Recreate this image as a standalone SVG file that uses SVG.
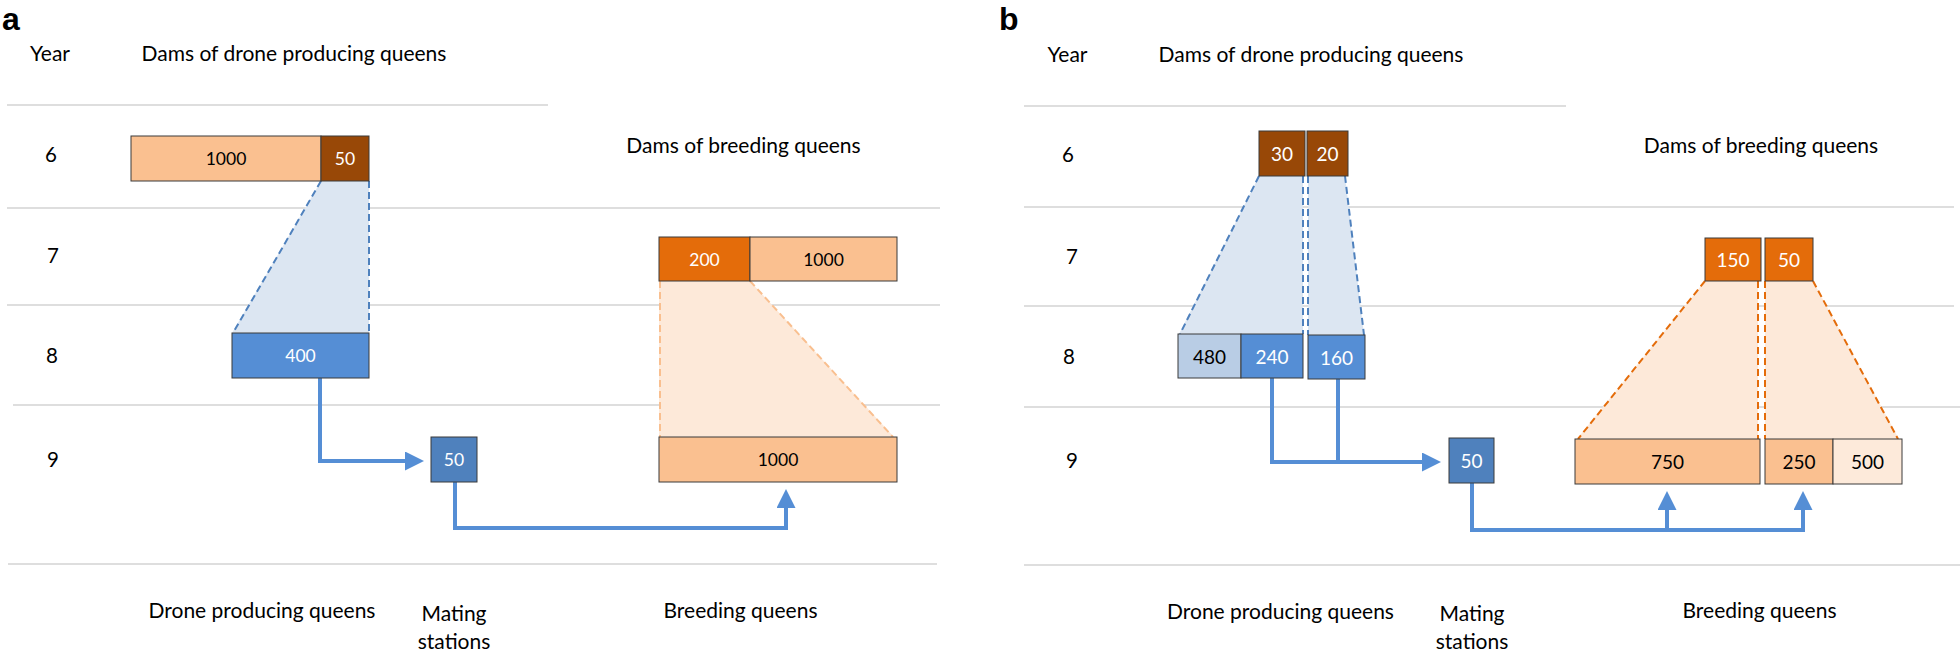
<svg xmlns="http://www.w3.org/2000/svg" width="1960" height="650" viewBox="0 0 1960 650">
<defs>
<style>
.grid{stroke:#d3d3d3;stroke-width:1.5;fill:none}
.lbl{font-family:Lato,"Liberation Sans",sans-serif;font-size:21px;fill:#000}
.yr{font-family:Lato,"Liberation Sans",sans-serif;font-size:20.5px;fill:#000;text-anchor:middle}
.panel{font-family:"Liberation Sans",Arial,sans-serif;font-size:32px;font-weight:bold;fill:#000}
.bx{stroke:#3a3a3a;stroke-width:1}
.ta{font-family:Lato,"Liberation Sans",sans-serif;font-size:17.5px;text-anchor:middle;dominant-baseline:central}
.tb{font-family:Lato,"Liberation Sans",sans-serif;font-size:19px;text-anchor:middle;dominant-baseline:central}
.w{fill:#fff}
.k{fill:#000}
.lo{fill:#fac090}
.br{fill:#984807}
.do{fill:#e46c0a}
.pe{fill:#fdeada}
.bl{fill:#558ed5}
.ms{fill:#4f81bd}
.lb{fill:#b9cde5}
.trb{fill:#dce6f2;stroke:none}
.tro{fill:#fde9d9;stroke:none}
.dsb{stroke:#4f81bd;stroke-width:2;stroke-dasharray:7 4;fill:none}
.dso{stroke:#f9bf8f;stroke-width:2;stroke-dasharray:7 4;fill:none}
.dsd{stroke:#e46c0a;stroke-width:2;stroke-dasharray:7 4;fill:none}
.flow{stroke:#558ed5;stroke-width:4;fill:none}
</style>
<marker id="arr" viewBox="0 0 10 10" refX="0" refY="5" markerWidth="19" markerHeight="19" markerUnits="userSpaceOnUse" orient="auto">
<path d="M0,0 L10,5 L0,10 Z" fill="#558ed5"/>
</marker>
</defs>
<rect width="1960" height="650" fill="#fff"/>

<g id="grid">
<line class="grid" x1="7" y1="105" x2="548" y2="105"/>
<line class="grid" x1="7" y1="208" x2="940" y2="208"/>
<line class="grid" x1="7" y1="305" x2="940" y2="305"/>
<line class="grid" x1="13" y1="405" x2="940" y2="405"/>
<line class="grid" x1="8" y1="564" x2="937" y2="564"/>
<line class="grid" x1="1024" y1="106" x2="1566" y2="106"/>
<line class="grid" x1="1024" y1="207" x2="1954" y2="207"/>
<line class="grid" x1="1024" y1="306" x2="1954" y2="306"/>
<line class="grid" x1="1024" y1="407" x2="1960" y2="407"/>
<line class="grid" x1="1024" y1="565" x2="1960" y2="565"/>
</g>

<g id="connectors">
<g id="projections">
<polygon class="trb" points="321,181 369,181 369,333 232,333"/>
<line class="dsb" x1="321" y1="181" x2="233" y2="333"/>
<line class="dsb" x1="369" y1="181" x2="369" y2="333"/>
<polygon class="tro" points="659,281 750,281 894,437 659,437"/>
<line class="dso" x1="660" y1="281" x2="660" y2="437"/>
<line class="dso" x1="750" y1="281" x2="893" y2="437"/>
<polygon class="trb" points="1259,176 1303,176 1303,334 1179,334"/>
<line class="dsb" x1="1259" y1="176" x2="1180" y2="334"/>
<line class="dsb" x1="1303" y1="176" x2="1303" y2="334"/>
<polygon class="trb" points="1308,176 1345,176 1364,335 1308,335"/>
<line class="dsb" x1="1308" y1="176" x2="1308" y2="335"/>
<line class="dsb" x1="1345" y1="176" x2="1364" y2="335"/>
<polygon class="tro" points="1705,281 1758,281 1758,439 1577,439"/>
<line class="dsd" x1="1705" y1="281" x2="1578" y2="439"/>
<line class="dsd" x1="1758" y1="281" x2="1758" y2="439"/>
<polygon class="tro" points="1765,281 1813,281 1899,439 1765,439"/>
<line class="dsd" x1="1765" y1="281" x2="1765" y2="439"/>
<line class="dsd" x1="1813" y1="281" x2="1898" y2="439"/>
</g>
<path class="flow" d="M320,378 V461 H405" marker-end="url(#arr)"/>
<path class="flow" d="M455,482 V528 H786 V508" marker-end="url(#arr)"/>
<path class="flow" d="M1272,378 V462 H1422" marker-end="url(#arr)"/>
<path class="flow" d="M1338,379 V462"/>
<path class="flow" d="M1472,483 V530 H1803 V510" marker-end="url(#arr)"/>
<path class="flow" d="M1667,530 V510" marker-end="url(#arr)"/>
</g>

<g id="a-dams-drone">
<rect class="bx lo" x="131" y="136" width="190" height="45"/>
<rect class="bx br" x="321" y="136" width="48" height="45"/>
<text class="ta k" x="226" y="158.5">1000</text>
<text class="ta w" x="345" y="158.5">50</text>
</g>
<g id="a-drone-queens">
<rect class="bx bl" x="232" y="333" width="137" height="45"/>
<text class="ta w" x="300.5" y="355.5">400</text>
</g>
<g id="a-mating">
<rect class="bx ms" x="431" y="437" width="46" height="45"/>
<text class="ta w" x="454" y="459.5">50</text>
</g>
<g id="a-dams-breeding">
<rect class="bx do" x="659" y="237" width="91" height="44"/>
<rect class="bx lo" x="750" y="237" width="147" height="44"/>
<text class="ta w" x="704.5" y="259">200</text>
<text class="ta k" x="823.5" y="259">1000</text>
</g>
<g id="a-breeding">
<rect class="bx lo" x="659" y="437" width="238" height="45"/>
<text class="ta k" x="778" y="459.5">1000</text>
</g>

<g id="b-dams-drone">
<rect class="bx br" x="1259" y="131" width="46" height="45"/>
<rect class="bx br" x="1307" y="131" width="41" height="45"/>
<text class="tb w" x="1282" y="153.5">30</text>
<text class="tb w" x="1327.5" y="153.5">20</text>
</g>
<g id="b-drone-queens">
<rect class="bx lb" x="1178" y="334" width="63" height="44"/>
<rect class="bx bl" x="1241" y="334" width="62" height="44"/>
<rect class="bx bl" x="1308" y="335" width="57" height="44"/>
<text class="tb k" x="1209.5" y="356">480</text>
<text class="tb w" x="1272" y="356">240</text>
<text class="tb w" x="1336.5" y="357">160</text>
</g>
<g id="b-mating">
<rect class="bx ms" x="1449" y="438" width="45" height="45"/>
<text class="tb w" x="1471.5" y="460.5">50</text>
</g>
<g id="b-dams-breeding">
<rect class="bx do" x="1705" y="238" width="56" height="43"/>
<rect class="bx do" x="1765" y="238" width="48" height="43"/>
<text class="tb w" x="1733" y="259.5">150</text>
<text class="tb w" x="1789" y="259.5">50</text>
</g>
<g id="b-breeding">
<rect class="bx lo" x="1575" y="439" width="185" height="45"/>
<rect class="bx lo" x="1765" y="439" width="68" height="45"/>
<rect class="bx pe" x="1833" y="439" width="69" height="45"/>
<text class="tb k" x="1667.5" y="461.5">750</text>
<text class="tb k" x="1799" y="461.5">250</text>
<text class="tb k" x="1867.5" y="461.5">500</text>
</g>

<g id="labels-a">
<text class="panel" x="2" y="30">a</text>
<text class="lbl" x="50" y="61" text-anchor="middle">Year</text>
<text class="lbl" x="294" y="61" text-anchor="middle">Dams of drone producing queens</text>
<text class="lbl" x="743.5" y="153" text-anchor="middle">Dams of breeding queens</text>
<text class="yr" x="51" y="162">6</text>
<text class="yr" x="53" y="263">7</text>
<text class="yr" x="52" y="363">8</text>
<text class="yr" x="53" y="467">9</text>
<text class="lbl" x="262" y="618" text-anchor="middle">Drone producing queens</text>
<text class="lbl" x="454" y="621" text-anchor="middle">Mating</text>
<text class="lbl" x="454" y="649" text-anchor="middle">stations</text>
<text class="lbl" x="740.5" y="618" text-anchor="middle">Breeding queens</text>
</g>
<g id="labels-b">
<text class="panel" x="999" y="30">b</text>
<text class="lbl" x="1067.5" y="62" text-anchor="middle">Year</text>
<text class="lbl" x="1311" y="62" text-anchor="middle">Dams of drone producing queens</text>
<text class="lbl" x="1761" y="153" text-anchor="middle">Dams of breeding queens</text>
<text class="yr" x="1068" y="162">6</text>
<text class="yr" x="1072" y="264">7</text>
<text class="yr" x="1069" y="364">8</text>
<text class="yr" x="1072" y="468">9</text>
<text class="lbl" x="1280.5" y="619" text-anchor="middle">Drone producing queens</text>
<text class="lbl" x="1472" y="621" text-anchor="middle">Mating</text>
<text class="lbl" x="1472" y="649" text-anchor="middle">stations</text>
<text class="lbl" x="1759.5" y="618" text-anchor="middle">Breeding queens</text>
</g>
</svg>
